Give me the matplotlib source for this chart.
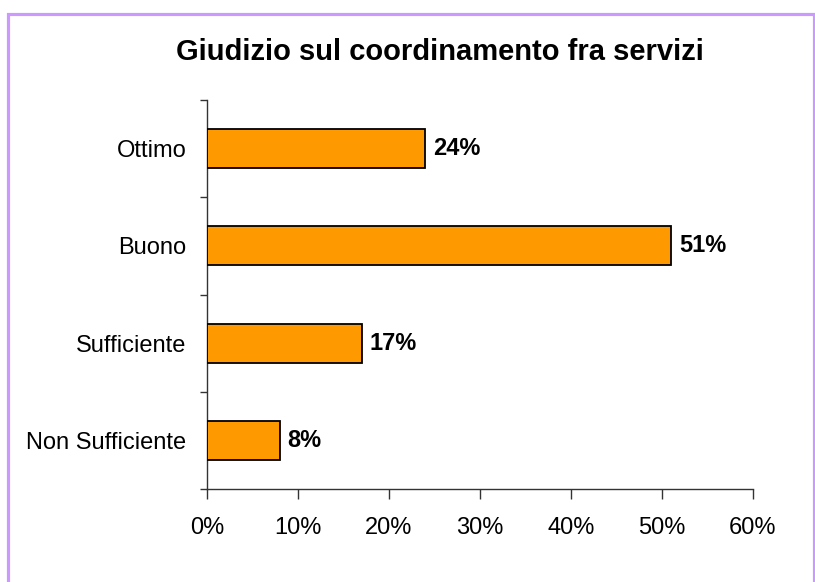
import matplotlib.pyplot as plt
from matplotlib.patches import Rectangle
from matplotlib.ticker import FuncFormatter

categories = ["Non Sufficiente", "Sufficiente", "Buono", "Ottimo"]
values = [8, 17, 51, 24]
value_labels = ["8%", "17%", "51%", "24%"]
x_ticks = [0, 10, 20, 30, 40, 50, 60]

plt.rcParams["font.family"] = ["Liberation Sans", "DejaVu Sans"]

fig = plt.figure(figsize=(8.15, 5.82), dpi=100)
ax = fig.add_axes([207 / 815, 1 - 489 / 582, 546 / 815, 389 / 582])

pos = list(range(len(categories)))
ax.barh(pos, values, height=0.4, color="#FF9900", edgecolor="black", linewidth=1.3, zorder=3)
for p, v, lab in zip(pos, values, value_labels):
    ax.text(v + 0.85, p, lab, va="center", ha="left", fontsize=17, fontweight="bold")

ax.set_xlim(0, 60)
ax.set_ylim(-0.5, len(categories) - 0.5)
ax.set_xticks(x_ticks)
ax.xaxis.set_major_formatter(FuncFormatter(lambda x, _: f"{int(x)}%"))
ax.set_yticks(pos)
ax.set_yticklabels(categories)
ax.set_yticks([i - 0.5 for i in range(len(categories) + 1)], minor=True)
ax.tick_params(axis="y", which="major", length=0, pad=15, labelsize=17)
ax.tick_params(axis="y", which="minor", length=5, width=1, color="#333333", direction="out")
ax.tick_params(axis="x", length=7, width=1, color="#333333", direction="out", pad=13, labelsize=17)

for s in ["top", "right"]:
    ax.spines[s].set_visible(False)
for s in ["left", "bottom"]:
    ax.spines[s].set_color("#333333")
    ax.spines[s].set_linewidth(1)

fig.text(440 / 815, 1 - 52 / 582, "Giudizio sul coordinamento fra servizi",
         ha="center", va="center", fontsize=21, fontweight="bold")

fig.patches.append(Rectangle((7.5 / 815, -0.05), (813.5 - 7.5) / 815, 1.05 - 13.5 / 582,
                             transform=fig.transFigure, fill=False,
                             edgecolor="#CC99FF", linewidth=2.3))

fig.savefig("out.png", dpi=100)
